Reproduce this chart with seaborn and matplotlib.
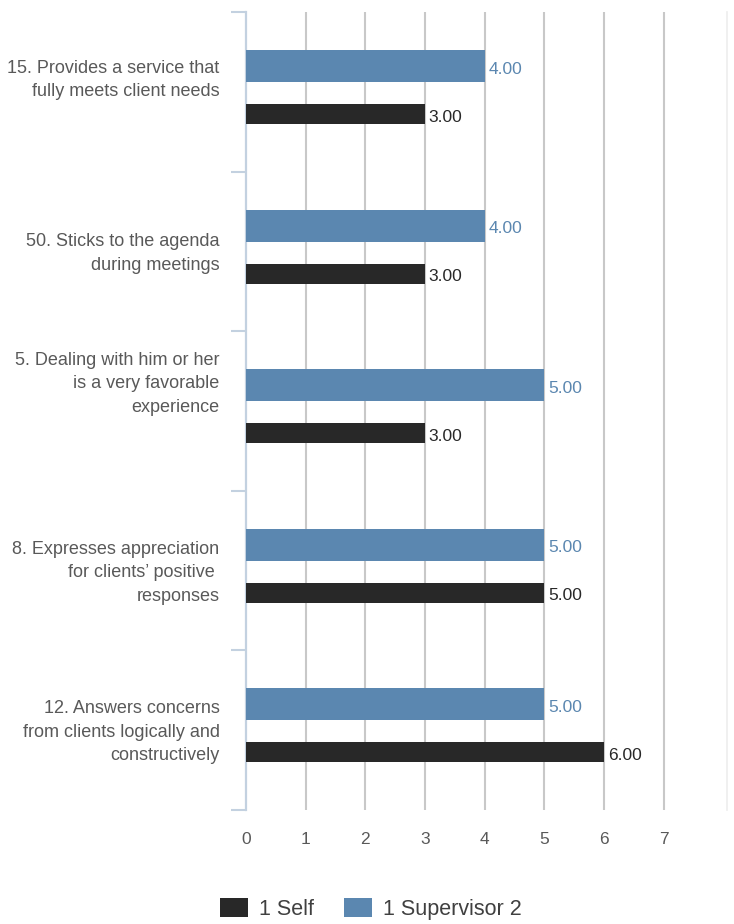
import numpy as np
import pandas as pd
import matplotlib
matplotlib.use("Agg")
import matplotlib.pyplot as plt
import matplotlib.transforms as mtransforms
import seaborn as sns
from matplotlib.patches import Patch

items = [
    "15. Provides a service that\nfully meets client needs\n ",
    "50. Sticks to the agenda\nduring meetings",
    "5. Dealing with him or her\nis a very favorable\nexperience\n \n ",
    "8. Expresses appreciation\nfor clients\u2019 positive \nresponses",
    "12. Answers concerns\nfrom clients logically and\nconstructively",
]
self_vals = [3, 3, 3, 5, 6]
supervisor_vals = [4, 4, 5, 5, 5]
series_names = ["1 Self", "1 Supervisor 2"]
x_ticks = [0, 1, 2, 3, 4, 5, 6, 7]

BLUE = "#5b87b0"
DARK = "#282828"
GRID = "#c8c8c8"
SPINE = "#c3d1e0"
TXT = "#595959"

sns.set_theme(style="white")
plt.rcParams["font.family"] = ["Liberation Sans", "DejaVu Sans"]

fig = plt.figure(figsize=(7.34, 9.24), dpi=100)
ax = fig.add_axes([246 / 734, 1 - 810 / 924, (727 - 246) / 734, (810 - 12) / 924])

idx = np.arange(len(items))
df_sup = pd.DataFrame({"pos": idx - 0.162, "value": supervisor_vals})
df_self = pd.DataFrame({"pos": idx + 0.139, "value": self_vals})

sns.barplot(data=df_sup, x="value", y="pos", orient="y", native_scale=True,
            width=0.2, color=BLUE, saturation=1, ax=ax, errorbar=None,
            linewidth=0, zorder=3)
sns.barplot(data=df_self, x="value", y="pos", orient="y", native_scale=True,
            width=0.125, color=DARK, saturation=1, ax=ax, errorbar=None,
            linewidth=0, zorder=3)

for cont, col in zip(ax.containers, [BLUE, DARK]):
    labels = ax.bar_label(cont, fmt="%.2f", padding=2.5, color=col, fontsize=12.5)
    for t in labels:
        x0, y0 = t.xyann
        t.xyann = (x0, y0 - 2.2)

ax.set_xlim(0, 8.057)
ax.set_ylim(len(items) - 0.5, -0.5)
ax.set_xticks(x_ticks)
ax.set_xticklabels([str(t) for t in x_ticks], color=TXT, fontsize=12.5)
ax.set_yticks(idx)
ax.set_yticklabels(items, color=TXT, fontsize=13, ha="right", va="center", linespacing=1.5)
ax.set_yticks(np.arange(len(items) + 1) - 0.5, minor=True)
ax.tick_params(axis="y", which="major", length=0, pad=19)
ax.tick_params(axis="y", which="minor", length=11, width=1.5, color=SPINE, left=True)
ax.tick_params(axis="x", which="major", length=0, pad=16)
ax.set_xlabel("")
ax.set_ylabel("")

# small vertical nudges of the category labels (in points)
nudges = [0.0, -1.4, 2.8, -1.4, -1.4]
for lab, dy in zip(ax.get_yticklabels(), nudges):
    lab.set_transform(lab.get_transform() +
                      mtransforms.ScaledTranslation(0, dy / 72, fig.dpi_scale_trans))

ax.grid(False)
for t in x_ticks[1:]:
    ax.axvline(t, color=GRID, lw=1.5, zorder=1)
for s in ["top", "bottom"]:
    ax.spines[s].set_visible(False)
ax.spines["left"].set_color(SPINE)
ax.spines["left"].set_linewidth(1.6)
ax.spines["right"].set_color("#ededed")
ax.spines["right"].set_linewidth(1.2)

handles = [Patch(facecolor=DARK, edgecolor="none"), Patch(facecolor=BLUE, edgecolor="none")]
fig.legend(handles, series_names, loc="center", bbox_to_anchor=(0.505, 0.0165),
           ncol=2, frameon=False, fontsize=15.5, handlelength=1.3, handleheight=1.0,
           handletextpad=0.5, columnspacing=1.4, labelcolor="#404040")

fig.savefig("out.png", dpi=100)
